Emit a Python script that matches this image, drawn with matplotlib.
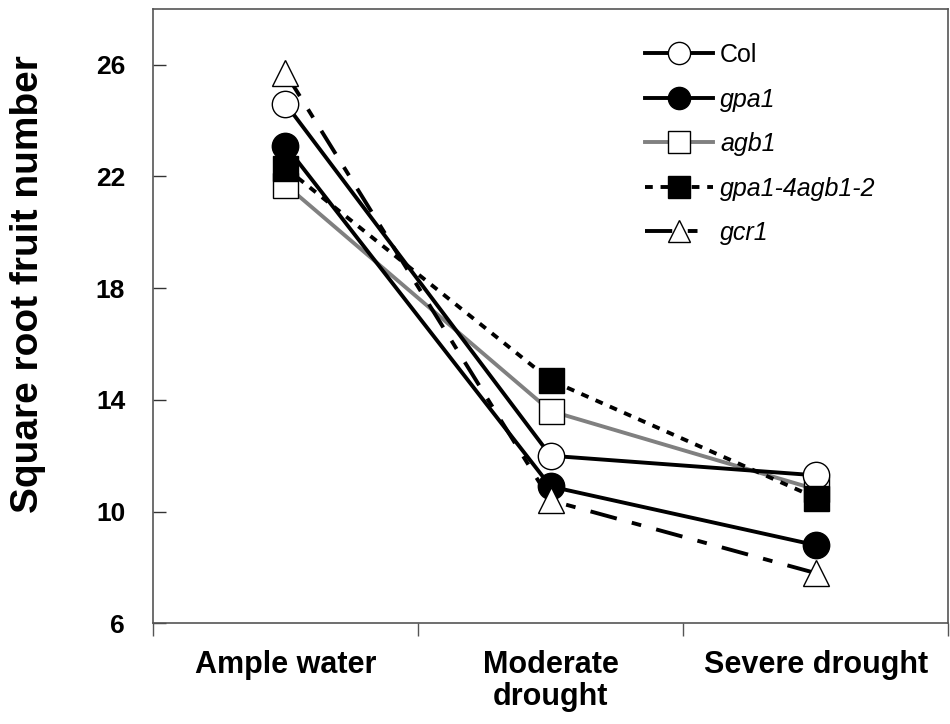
import matplotlib
matplotlib.use('Agg')
import matplotlib.pyplot as plt

plt.rcParams['font.family'] = ['Liberation Sans', 'DejaVu Sans']

# data
conditions = ['Ample water', 'Moderate\ndrought', 'Severe drought']
col = [24.6, 12.0, 11.3]
gpa1 = [23.1, 10.9, 8.8]
agb1 = [21.7, 13.6, 10.8]
gpa1_agb1 = [22.3, 14.7, 10.5]
gcr1 = [25.7, 10.4, 7.8]
yticks = [6, 10, 14, 18, 22, 26]

fig = plt.figure(figsize=(9.5, 7.24), dpi=100)
ax = fig.add_axes([0.161, 0.139, 0.837, 0.849])

x = [1, 2, 3]
lw = 2.8
ms = 19
ax.plot(x, col, color='black', lw=lw, marker='o', ms=ms, mfc='white', mec='black', mew=1.0, label='Col', zorder=3)
ax.plot(x, gpa1, color='black', lw=lw, marker='o', ms=ms, mfc='black', mec='black', label='gpa1', zorder=3)
ax.plot(x, agb1, color='#808080', lw=lw, marker='s', ms=ms - 1, mfc='white', mec='black', mew=1.0, label='agb1', zorder=2)
ax.plot(x, gpa1_agb1, color='black', lw=lw, ls=(0, (2, 2)), marker='s', ms=ms - 1, mfc='black', mec='black', label='gpa1-4agb1-2', zorder=3)
ax.plot(x, gcr1, color='black', lw=lw, ls=(0, (7, 4, 2.5, 4)), marker='^', ms=ms, mfc='white', mec='black', mew=1.0, label='gcr1', zorder=3)

ax.set_xlim(0.5, 3.5)
ax.set_ylim(6, 28)
ax.set_yticks(yticks)
ax.set_yticklabels([str(t) for t in yticks], fontsize=19, fontweight='bold')
ax.set_xticks([0.5, 1.5, 2.5, 3.5])
ax.set_xticks(x, minor=True)
ax.set_xticklabels(['', '', '', ''])
ax.set_xticklabels(conditions, minor=True, fontsize=22, fontweight='bold', linespacing=1.1)
ax.tick_params(axis='x', which='major', direction='out', length=9, width=1, color='#555555')
ax.tick_params(axis='x', which='minor', length=0, pad=19)
ax.tick_params(axis='y', direction='in', length=9, width=1, color='#333333', pad=20)
for s in ax.spines.values():
    s.set_color('#555555')
    s.set_linewidth(1.2)

fig.text(0.030, 0.608, 'Square root fruit number', rotation=90, ha='center', va='center',
         fontsize=28, fontweight='bold')

leg = ax.legend(loc='upper left', frameon=False, fontsize=18, handlelength=2.7,
                handletextpad=0.3, labelspacing=0.82, borderpad=0, borderaxespad=0,
                markerscale=16 / 19, bbox_to_anchor=(0.619, 0.944))
for t in leg.get_texts():
    if t.get_text() != 'Col':
        t.set_fontstyle('italic')

fig.savefig('out.png', dpi=100)
